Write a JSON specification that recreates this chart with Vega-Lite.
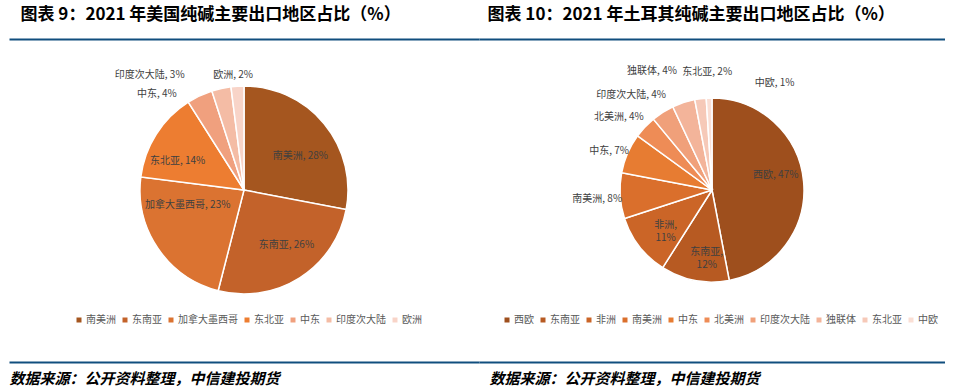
{
  "$schema": "https://vega.github.io/schema/vega-lite/v6.json",
  "background": "white",
  "padding": {"left": 9, "top": 5, "right": 0, "bottom": 0},
  "spacing": 0,
  "config": {"view": {"stroke": null}, "font": "Noto Sans CJK SC"},
  "datasets": {
    "us": [
      {"region": "南美洲", "value": 28, "order": 1, "label": "南美洲, 28%"},
      {"region": "东南亚", "value": 26, "order": 2, "label": "东南亚, 26%"},
      {"region": "加拿大墨西哥", "value": 23, "order": 3, "label": "加拿大墨西哥, 23%"},
      {"region": "东北亚", "value": 14, "order": 4, "label": "东北亚, 14%"},
      {"region": "中东", "value": 4, "order": 5, "label": "中东, 4%"},
      {"region": "印度次大陆", "value": 3, "order": 6, "label": "印度次大陆, 3%"},
      {"region": "欧洲", "value": 2, "order": 7, "label": "欧洲, 2%"}
    ],
    "turkey": [
      {"region": "西欧", "value": 47, "order": 1, "label": "西欧, 47%"},
      {"region": "东南亚", "value": 12, "order": 2, "label": "东南亚,\n12%"},
      {"region": "非洲", "value": 11, "order": 3, "label": "非洲,\n11%"},
      {"region": "南美洲", "value": 8, "order": 4, "label": "南美洲, 8%"},
      {"region": "中东", "value": 7, "order": 5, "label": "中东, 7%"},
      {"region": "北美洲", "value": 4, "order": 6, "label": "北美洲, 4%"},
      {"region": "印度次大陆", "value": 4, "order": 7, "label": "印度次大陆, 4%"},
      {"region": "独联体", "value": 4, "order": 8, "label": "独联体, 4%"},
      {"region": "东北亚", "value": 2, "order": 9, "label": "东北亚, 2%"},
      {"region": "中欧", "value": 1, "order": 10, "label": "中欧, 1%"}
    ]
  },
  "resolve": {"scale": {"color": "independent", "theta": "independent"}, "legend": {"color": "independent"}},
  "hconcat": [
    {
      "width": 470,
      "height": 226,
      "data": {"name": "us"},
      "resolve": {"scale": {"x": "independent"}, "axis": {"x": "independent"}},
      "layer": [
        {
          "encoding": {
            "theta": {"field": "value", "type": "quantitative", "stack": true},
            "order": {"field": "order", "type": "quantitative"}
          },
          "layer": [
            {
              "mark": {"type": "arc", "outerRadius": 104, "stroke": "white", "strokeWidth": 1.5},
              "encoding": {
                "color": {
                  "field": "region", "type": "nominal", "sort": null,
                  "scale": {"domain": ["南美洲", "东南亚", "加拿大墨西哥", "东北亚", "中东", "印度次大陆", "欧洲"],
                            "range": ["#A5561F", "#C3622A", "#DB7331", "#ED7D31", "#F0A07E", "#F4BCA5", "#F8D4C8"]},
                  "legend": {"orient": "none", "legendX": 65, "legendY": 238, "direction": "horizontal", "columns": 7, "title": null,
                             "symbolType": "square", "symbolSize": 25, "symbolStrokeWidth": 0, "labelFont": "Noto Sans CJK SC",
                             "labelFontSize": 10, "labelColor": "#595959", "columnPadding": 4, "labelOffset": 2, "padding": 0}
                }
              }
            },
            {"mark": {"type": "text", "radius": 68, "dx": 4, "dy": 9, "fontSize": 10, "color": "#404040"},
             "encoding": {"text": {"condition": {"test": "datum.region === '南美洲'", "field": "label"}, "value": ""}}},
            {"mark": {"type": "text", "radius": 68, "dx": 6, "dy": -2, "fontSize": 10, "color": "#404040"},
             "encoding": {"text": {"condition": {"test": "datum.region === '东南亚'", "field": "label"}, "value": ""}}},
            {"mark": {"type": "text", "radius": 68, "dx": 0, "dy": -23, "fontSize": 10, "color": "#404040"},
             "encoding": {"text": {"condition": {"test": "datum.region === '加拿大墨西哥'", "field": "label"}, "value": ""}}},
            {"mark": {"type": "text", "radius": 68, "dx": -9, "dy": 7, "fontSize": 10, "color": "#404040"},
             "encoding": {"text": {"condition": {"test": "datum.region === '东北亚'", "field": "label"}, "value": ""}}},
            {"mark": {"type": "text", "radius": 125, "dx": -34, "dy": 17, "fontSize": 10, "color": "#404040"},
             "encoding": {"text": {"condition": {"test": "datum.region === '中东'", "field": "label"}, "value": ""}}},
            {"mark": {"type": "text", "radius": 125, "dx": -67, "dy": 7, "fontSize": 10, "color": "#404040"},
             "encoding": {"text": {"condition": {"test": "datum.region === '印度次大陆'", "field": "label"}, "value": ""}}},
            {"mark": {"type": "text", "radius": 125, "dx": -3, "dy": 10, "fontSize": 10, "color": "#404040"},
             "encoding": {"text": {"condition": {"test": "datum.region === '欧洲'", "field": "label"}, "value": ""}}}
          ]
        },
        {
          "mark": {"type": "rule", "opacity": 0},
          "encoding": {"x": {"datum": 0.5, "type": "quantitative", "scale": {"domain": [0, 1]},
            "axis": {"orient": "top", "offset": 38, "domainColor": "#104E7E", "domainWidth": 2, "ticks": false, "labels": false, "grid": false,
                     "title": "图表 9：2021 年美国纯碱主要出口地区占比（%）", "titleX": 11, "titleY": -20, "titleAlign": "left", "titleAnchor": "start",
                     "titleBaseline": "alphabetic", "titleFont": "Noto Sans CJK SC", "titleFontSize": 17, "titleFontWeight": "bold", "titleColor": "#000000"}}}
        },
        {
          "mark": {"type": "rule", "opacity": 0},
          "encoding": {"x": {"datum": 0.5, "type": "quantitative", "scale": {"domain": [0, 1]},
            "axis": {"orient": "bottom", "offset": 59, "domainColor": "#104E7E", "domainWidth": 2, "ticks": false, "labels": false, "grid": false,
                     "title": "数据来源：公开资料整理，中信建投期货", "titleX": 0, "titleY": 21, "titleAlign": "left", "titleAnchor": "start",
                     "titleBaseline": "alphabetic", "titleFont": "Noto Sans CJK SC", "titleFontSize": 15, "titleFontWeight": "bold", "titleFontStyle": "italic", "titleColor": "#000000"}}}
        }
      ]
    },
    {
      "width": 466,
      "height": 226,
      "data": {"name": "turkey"},
      "resolve": {"scale": {"x": "independent"}, "axis": {"x": "independent"}},
      "layer": [
        {
          "encoding": {
            "theta": {"field": "value", "type": "quantitative", "stack": true},
            "order": {"field": "order", "type": "quantitative"}
          },
          "layer": [
            {
              "mark": {"type": "arc", "outerRadius": 92, "stroke": "white", "strokeWidth": 1.5},
              "encoding": {
                "color": {
                  "field": "region", "type": "nominal", "sort": null,
                  "scale": {"domain": ["西欧", "东南亚", "非洲", "南美洲", "中东", "北美洲", "印度次大陆", "独联体", "东北亚", "中欧"],
                            "range": ["#9E4F1D", "#B75A22", "#CB6527", "#DA6F2C", "#E77C32", "#EE8C56", "#F0A07A", "#F3B49A", "#F6C9B8", "#FADFD5"]},
                  "legend": {"orient": "none", "legendX": 23, "legendY": 238, "direction": "horizontal", "columns": 10, "title": null,
                             "symbolType": "square", "symbolSize": 25, "symbolStrokeWidth": 0, "labelFont": "Noto Sans CJK SC",
                             "labelFontSize": 10, "labelColor": "#595959", "columnPadding": 4, "labelOffset": 2, "padding": 0}
                }
              }
            },
            {"mark": {"type": "text", "radius": 60, "dx": 4, "dy": -9, "fontSize": 10, "color": "#404040"},
             "encoding": {"text": {"condition": {"test": "datum.region === '西欧'", "field": "label"}, "value": ""}}},
            {"mark": {"type": "text", "radius": 60, "dx": 6, "dy": 3, "fontSize": 10, "color": "#404040", "lineBreak": "\n", "lineHeight": 13},
             "encoding": {"text": {"condition": {"test": "datum.region === '东南亚'", "field": "label"}, "value": ""}}},
            {"mark": {"type": "text", "radius": 60, "dx": 1, "dy": -2, "fontSize": 10, "color": "#404040", "lineBreak": "\n", "lineHeight": 13},
             "encoding": {"text": {"condition": {"test": "datum.region === '非洲'", "field": "label"}, "value": ""}}},
            {"mark": {"type": "text", "radius": 110, "dx": -5, "dy": 2, "fontSize": 10, "color": "#404040"},
             "encoding": {"text": {"condition": {"test": "datum.region === '南美洲'", "field": "label"}, "value": ""}}},
            {"mark": {"type": "text", "radius": 110, "dx": -2, "dy": 5, "fontSize": 10, "color": "#404040"},
             "encoding": {"text": {"condition": {"test": "datum.region === '中东'", "field": "label"}, "value": ""}}},
            {"mark": {"type": "text", "radius": 110, "dx": -13, "dy": 2, "fontSize": 10, "color": "#404040"},
             "encoding": {"text": {"condition": {"test": "datum.region === '北美洲'", "field": "label"}, "value": ""}}},
            {"mark": {"type": "text", "radius": 110, "dx": -22, "dy": -2, "fontSize": 10, "color": "#404040"},
             "encoding": {"text": {"condition": {"test": "datum.region === '印度次大陆'", "field": "label"}, "value": ""}}},
            {"mark": {"type": "text", "radius": 110, "dx": -26, "dy": -14, "fontSize": 10, "color": "#404040"},
             "encoding": {"text": {"condition": {"test": "datum.region === '独联体'", "field": "label"}, "value": ""}}},
            {"mark": {"type": "text", "radius": 110, "dx": 9, "dy": -9, "fontSize": 10, "color": "#404040"},
             "encoding": {"text": {"condition": {"test": "datum.region === '东北亚'", "field": "label"}, "value": ""}}},
            {"mark": {"type": "text", "radius": 110, "dx": 66, "dy": 3, "fontSize": 10, "color": "#404040"},
             "encoding": {"text": {"condition": {"test": "datum.region === '中欧'", "field": "label"}, "value": ""}}}
          ]
        },
        {
          "mark": {"type": "rule", "opacity": 0},
          "encoding": {"x": {"datum": 0.5, "type": "quantitative", "scale": {"domain": [0, 1]},
            "axis": {"orient": "top", "offset": 38, "domainColor": "#104E7E", "domainWidth": 2, "ticks": false, "labels": false, "grid": false,
                     "title": "图表 10：2021 年土耳其纯碱主要出口地区占比（%）", "titleX": 8, "titleY": -20, "titleAlign": "left", "titleAnchor": "start",
                     "titleBaseline": "alphabetic", "titleFont": "Noto Sans CJK SC", "titleFontSize": 17, "titleFontWeight": "bold", "titleColor": "#000000"}}}
        },
        {
          "mark": {"type": "rule", "opacity": 0},
          "encoding": {"x": {"datum": 0.5, "type": "quantitative", "scale": {"domain": [0, 1]},
            "axis": {"orient": "bottom", "offset": 59, "domainColor": "#104E7E", "domainWidth": 2, "ticks": false, "labels": false, "grid": false,
                     "title": "数据来源：公开资料整理，中信建投期货", "titleX": 10, "titleY": 21, "titleAlign": "left", "titleAnchor": "start",
                     "titleBaseline": "alphabetic", "titleFont": "Noto Sans CJK SC", "titleFontSize": 15, "titleFontWeight": "bold", "titleFontStyle": "italic", "titleColor": "#000000"}}}
        }
      ]
    }
  ]
}
